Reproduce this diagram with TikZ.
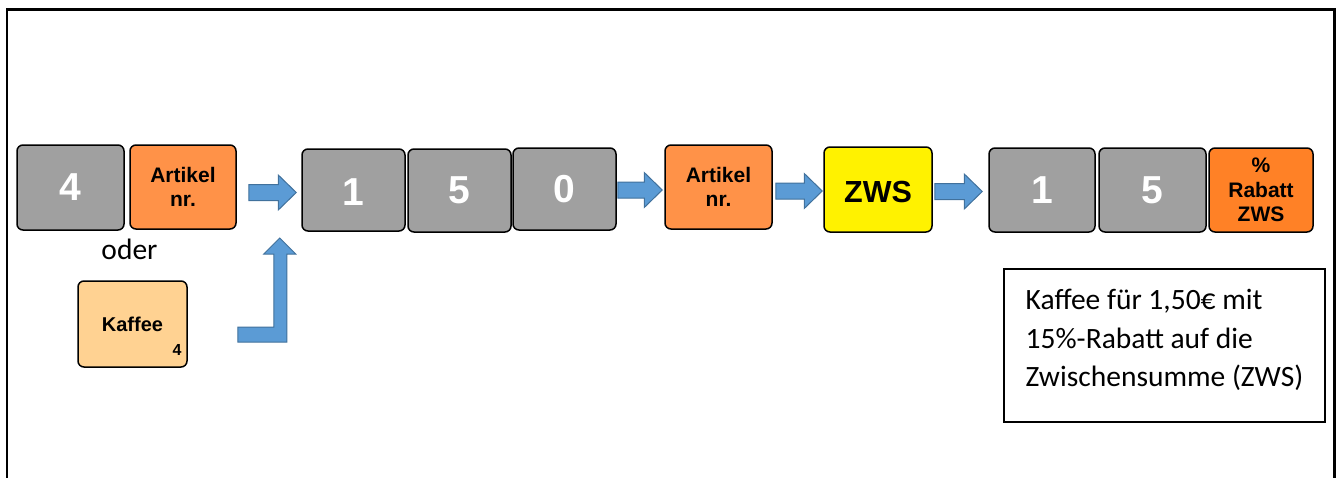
\documentclass[tikz,border=0pt]{standalone}
\usepackage{fontspec}
\setmainfont{Carlito}
\newfontfamily\arialfont{Liberation Sans}
\usetikzlibrary{calc}
\definecolor{keygray}{HTML}{A0A0A0}
\definecolor{keyorange}{HTML}{FF9248}
\definecolor{rabattorange}{HTML}{FF8126}
\definecolor{kaffeecol}{HTML}{FFD292}
\definecolor{arrowblue}{HTML}{5B9BD5}
\definecolor{arrowedge}{HTML}{41719C}
\tikzset{
  keybox/.style={draw=black, line width=1.5pt, rounded corners=6pt, inner sep=0pt, align=center},
  numkey/.style={keybox, fill=keygray, text=white, font=\arialfont\bfseries\fontsize{39}{44}\selectfont},
  artkey/.style={keybox, fill=keyorange, font=\arialfont\bfseries\fontsize{21}{24}\selectfont},
  blockarrow/.style={fill=arrowblue, draw=arrowedge, line width=1pt, line join=miter},
  notebox/.style={draw=black, line width=1.5pt, inner xsep=0pt, inner ysep=0pt,
    minimum width=321pt, minimum height=153pt, font=\fontsize{29.5}{38.5}\selectfont},
}
\newcommand{\lowertext}[2]{\raisebox{-#1}[\height][0pt]{#2}}
\newcommand{\flowarrow}[5]{%
  \draw[blockarrow] let \p1=($(#1.east)+(#3,0)$), \p2=($(#2.west)+(-#4,#5)$) in
    (\x1,{\y2+8pt}) -- ({\x2-18pt},{\y2+8pt}) -- ({\x2-18pt},{\y2+17.5pt}) -- (\x2,\y2)
    -- ({\x2-18pt},{\y2-17.5pt}) -- ({\x2-18pt},{\y2-8pt}) -- (\x1,{\y2-8pt}) -- cycle;}
\begin{document}
\begin{tikzpicture}[x=1pt,y=-1pt]
\useasboundingbox (0,0) rectangle (1343,477);
% outer frame
\draw[line width=2.5pt] (7,490) -- (7,9.5) -- (1334.5,9.5) -- (1334.5,490);
% keys
\node[numkey, minimum width=107pt, minimum height=85pt] (k4) at (70.5,187.5) {4};
\node[artkey, minimum width=106pt, minimum height=84pt] (a1) at (183,187) {Artikel\\nr.};
\node[numkey, minimum width=103pt, minimum height=82pt] (n1) at (353.5,190) {\lowertext{2pt}{1}};
\node[numkey, minimum width=103pt, minimum height=83pt] (n5) at (459.5,190.5) {5};
\node[numkey, minimum width=103pt, minimum height=82pt] (n0) at (564.5,189) {0};
\node[artkey, minimum width=107pt, minimum height=84pt] (a2) at (718.5,187) {Artikel\\nr.};
\node[keybox, fill=yellow, minimum width=108pt, minimum height=85pt, font=\arialfont\bfseries\fontsize{30.5}{34}\selectfont] (zws) at (878,189.5) {\lowertext{2.5pt}{ZWS}};
\node[numkey, minimum width=106pt, minimum height=84pt] (m1) at (1042,190) {1};
\node[numkey, minimum width=107pt, minimum height=84pt] (m5) at (1152.5,190) {5};
\node[keybox, fill=rabattorange, minimum width=104pt, minimum height=84pt, font=\arialfont\bfseries\fontsize{21}{24.5}\selectfont] (rab) at (1261,190) {\%\\Rabatt\\ZWS};
% oder and Kaffee key
\node[font=\fontsize{29.5}{34}\selectfont, inner sep=0pt, anchor=base] (oder) at (129.5,259) {oder};
\node[keybox, fill=kaffeecol, minimum width=109pt, minimum height=86pt, font=\arialfont\bfseries\fontsize{20}{24}\selectfont,
  label={[anchor=south east, inner sep=0pt, xshift=-6pt, yshift=12pt, font=\arialfont\bfseries\fontsize{16}{18}\selectfont]south east:4}] (kaf) at (132.5,324) {Kaffee};
% note
\node[notebox] (note) at (1164.5,345.5) {\spaceskip=0pt\relax\begin{tabular}{@{}l@{}}Kaffee für 1,50€ mit\\15\%-Rabatt auf die\\Zwischensumme (ZWS)\rule[-21pt]{0pt}{0pt}\end{tabular}};
% arrows
\flowarrow{a1}{n1}{12}{5}{2.5}
\flowarrow{n0}{a2}{1}{2}{3}
\flowarrow{a2}{zws}{3}{1}{1.5}
\flowarrow{zws}{m1}{2}{6}{1.5}
\draw[blockarrow] ($(kaf.east)+(50,3)$) -- ++(36,0) -- ++(0,-73) -- ++(-10,0) -- ++(16,-16)
  -- ++(16,16) -- ++(-9,0) -- ++(0,88) -- ++(-49,0) -- cycle;
\end{tikzpicture}
\end{document}
